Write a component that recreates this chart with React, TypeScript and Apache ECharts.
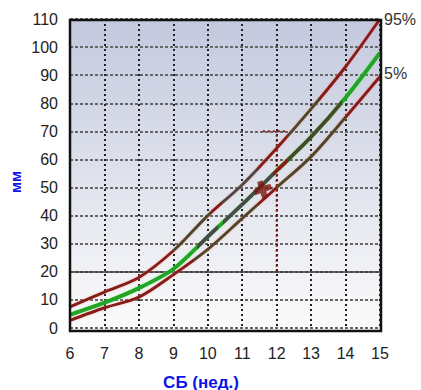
import React, { useEffect, useRef } from "react";
import * as echarts from "echarts";

const weeks = [6, 7, 8, 9, 10, 11, 12, 13, 14, 15];
const p95 = [7.5, 12.8, 18, 27.5, 40, 51, 64, 78, 93, 110];
const p50 = [4.7, 9, 14.2, 21, 32.5, 44, 56, 68, 82, 98];
const p05 = [2.7, 7.2, 11, 19, 28, 39, 50, 61, 75, 89.5];
const xTicks = [6, 7, 8, 9, 10, 11, 12, 13, 14, 15];
const yTicks = [0, 10, 20, 30, 40, 50, 60, 70, 80, 90, 100, 110];
const marker = [11.6, 49.3];
const refLineY = 20;
const refWeek = 12;
const refTop = 70;

const RED = "#861a18";
const GREEN = "#20a526";
const OLIVE = "#4a4a2a";
const GRAY = "#4a4a4a";

export default function App() {
  const ref = useRef<HTMLDivElement>(null);
  useEffect(() => {
    if (!ref.current) return;
    const chart = echarts.init(ref.current, null, { renderer: "svg" });
    const toPairs = (ys: number[]) => weeks.map((w, i) => [w, ys[i]]);
    const labelStyle = { color: "#222", fontSize: 16, fontFamily: "Liberation Sans, Arial, sans-serif" };
    chart.setOption({
      animation: false,
      grid: { left: 70, right: 41, top: 19, bottom: 62, show: false },
      xAxis: {
        type: "value",
        min: xTicks[0],
        max: xTicks[xTicks.length - 1],
        interval: 1,
        axisLine: { show: false },
        axisTick: { show: false },
        axisLabel: { ...labelStyle, margin: 17 },
        splitLine: {
          show: true,
          lineStyle: { color: "#222", type: [2, 3], width: 2 },
        },
      },
      yAxis: {
        type: "value",
        min: yTicks[0],
        max: yTicks[yTicks.length - 1],
        interval: 10,
        axisLine: { show: false },
        axisTick: { show: false },
        axisLabel: { ...labelStyle, margin: 12 },
        splitLine: {
          show: true,
          lineStyle: { color: "#666", type: [3, 2], width: 2 },
        },
      },
      visualMap: [
        {
          show: false, type: "piecewise", seriesIndex: 0, dimension: 0,
          pieces: [
            { lt: 9, color: RED },
            { gte: 9, lt: 10.1, color: OLIVE },
            { gte: 10.1, lt: 10.4, color: RED },
            { gte: 10.4, lt: 11.45, color: GRAY },
            { gte: 11.45, lt: 12.3, color: RED },
            { gte: 12.3, lt: 13.25, color: OLIVE },
            { gte: 13.25, color: RED },
          ],
        },
        {
          show: false, type: "piecewise", seriesIndex: 1, dimension: 0,
          pieces: [
            { lt: 9.7, color: GREEN },
            { gte: 9.7, lt: 10.3, color: GRAY },
            { gte: 10.3, lt: 10.45, color: GREEN },
            { gte: 10.45, lt: 11.9, color: GRAY },
            { gte: 11.9, lt: 12.3, color: RED },
            { gte: 12.3, lt: 13.9, color: OLIVE },
            { gte: 13.9, color: GREEN },
          ],
        },
        {
          show: false, type: "piecewise", seriesIndex: 2, dimension: 0,
          pieces: [
            { lt: 9.6, color: RED },
            { gte: 9.6, lt: 11.45, color: OLIVE },
            { gte: 11.45, lt: 12.0, color: RED },
            { gte: 12.0, lt: 14.0, color: OLIVE },
            { gte: 14.0, color: RED },
          ],
        },
      ],
      series: [
        {
          name: "95%",
          type: "line",
          data: toPairs(p95),
          smooth: 0.3,
          showSymbol: false,
          lineStyle: { width: 3, shadowColor: "rgba(255,120,120,0.5)", shadowBlur: 2 },
          endLabel: {
            show: true, formatter: "95%", color: "#333", fontSize: 16,
            fontFamily: "Liberation Sans, Arial, sans-serif", distance: 4,
          },
          z: 5,
          markLine: {
            silent: true,
            symbol: "none",
            label: { show: false },
            data: [
              [{ coord: [weeks[0], refLineY] }, { coord: [weeks[weeks.length - 1], refLineY] }],
            ],
            lineStyle: { color: "#3a3a3a", type: "solid", width: 1.5 },
          },
        },
        {
          name: "50%",
          type: "line",
          data: toPairs(p50),
          smooth: 0.3,
          showSymbol: false,
          lineStyle: { width: 4, shadowColor: "rgba(120,255,120,0.5)", shadowBlur: 2 },
          z: 6,
        },
        {
          name: "5%",
          type: "line",
          data: toPairs(p05),
          smooth: 0.3,
          showSymbol: false,
          lineStyle: { width: 3, shadowColor: "rgba(255,120,120,0.5)", shadowBlur: 2 },
          endLabel: {
            show: true, formatter: "5%", color: "#333", fontSize: 16,
            fontFamily: "Liberation Sans, Arial, sans-serif", distance: 4,
            offset: [0, -3],
          },
          z: 5,
        },
        {
          name: "ref",
          type: "line",
          data: [[refWeek, refLineY], [refWeek, refTop]],
          showSymbol: false,
          lineStyle: { color: "#8a1a12", type: [2, 3], width: 2 },
          z: 3,
        },
        {
          name: "ref2",
          type: "line",
          data: [[refWeek - 0.4, refTop], [refWeek + 0.3, refTop]],
          showSymbol: false,
          lineStyle: { color: "#8a1a12", type: [2, 3], width: 2 },
          z: 3,
        },
        {
          name: "marker",
          type: "scatter",
          data: [marker],
          symbol: "path://M7,0 L13,0 L13,6 L20,7 L20,13 L13,13 L12,20 L6,20 L6,13 L0,13 L0,7 L6,6 Z",
          symbolSize: 18,
          symbolRotate: 20,
          itemStyle: { color: "#7a140c" },
          z: 20,
        },
      ],
      graphic: [
        {
          type: "rect",
          z: -10,
          silent: true,
          shape: { x: 70, y: 20, width: 311, height: 311 },
          style: {
            fill: new echarts.graphic.LinearGradient(0, 0, 0, 1, [
              { offset: 0, color: "#c3c9de" },
              { offset: 0.5, color: "#dfe2ec" },
              { offset: 1, color: "#fbfbfb" },
            ]),
          },
        },
        {
          type: "rect",
          z: 100,
          silent: true,
          shape: { x: 70, y: 20, width: 311, height: 311 },
          style: { fill: "none", stroke: "#111", lineWidth: 2.5 },
        },
        {
          type: "text",
          x: 15,
          y: 182,
          rotation: Math.PI / 2,
          style: {
            text: "мм",
            fill: "#0a14e6",
            font: "bold 15px Liberation Sans, Arial, sans-serif",
            align: "center",
            verticalAlign: "middle",
          },
        },
        {
          type: "text",
          x: 201,
          y: 382,
          style: {
            text: "СБ (нед.)",
            fill: "#0a14e6",
            font: "bold 17px Liberation Sans, Arial, sans-serif",
            align: "center",
            verticalAlign: "middle",
          },
        },
      ],
    });
    return () => chart.dispose();
  }, []);
  return <div ref={ref} style={{ width: 421, height: 390, position: "absolute", left: 0, top: 0, background: "#fff" }} />;
}
